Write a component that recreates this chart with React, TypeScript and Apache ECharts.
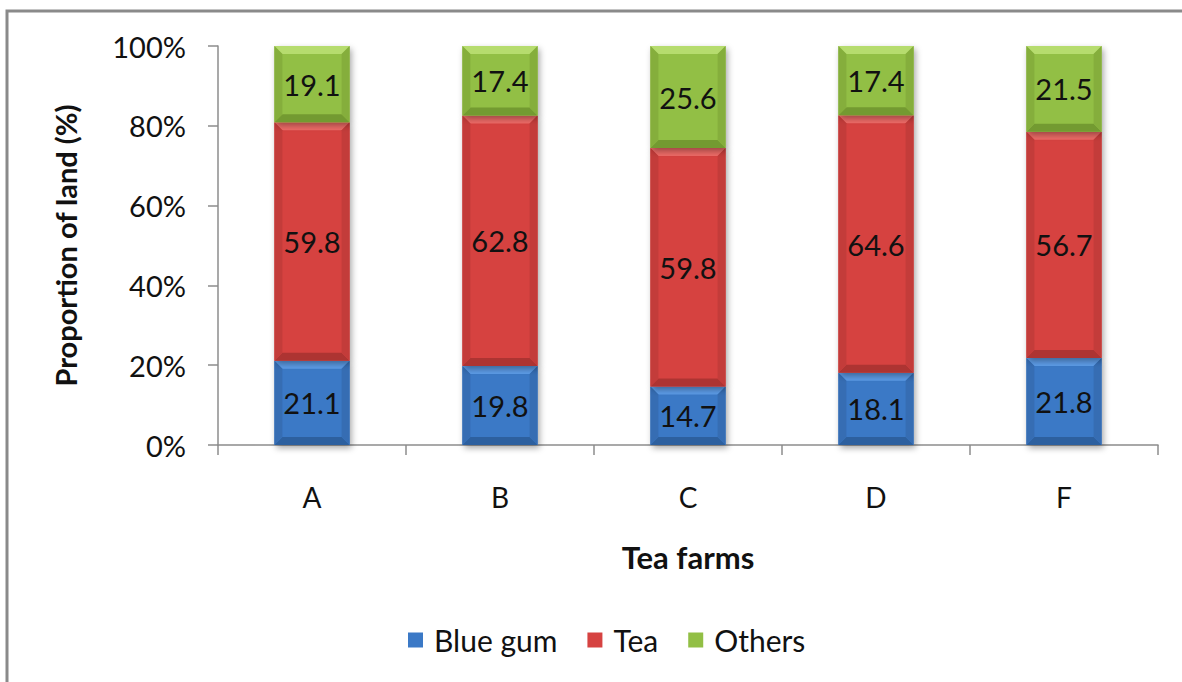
import React, { useEffect, useRef } from "react";
import * as echarts from "echarts";

// Land use shares per tea farm (%)
const farms = ["A", "B", "C", "D", "F"];
const blueGum = [21.1, 19.8, 14.7, 18.1, 21.8];
const tea = [59.8, 62.8, 59.8, 64.6, 56.7];
const others = [19.1, 17.4, 25.6, 17.4, 21.5];
const yTicks = [0, 20, 40, 60, 80, 100];

const seriesNames = ["Blue gum", "Tea", "Others"];
const seriesValues = [blueGum, tea, others];

// fill shades per series: body, top bevel, bottom bevel, side bevel
const palette = [
  { body: "#3b79c6", top: "#5c9be6", bottom: "#2d609f", side: "#366db3" },
  { body: "#d64341", top: "#ec6a66", bottom: "#ad3432", side: "#c33c3a" },
  { body: "#92bf45", top: "#b6dc6e", bottom: "#739a31", side: "#85ae3c" },
];

const FONT = "Lato, 'Open Sans', sans-serif";

export default function App() {
  const ref = useRef<HTMLDivElement>(null);

  useEffect(() => {
    if (!ref.current) return;
    const chart = echarts.init(ref.current, null, { renderer: "svg" });

    const totals = farms.map((_, i) => seriesValues.reduce((s, arr) => s + arr[i], 0));

    // stacked segments normalised to 100 % (percent-stacked column)
    const segData = seriesValues.map((arr, si) =>
      farms.map((_, i) => {
        let start = 0;
        for (let k = 0; k < si; k++) start += (seriesValues[k][i] / totals[i]) * 100;
        const end = start + (arr[i] / totals[i]) * 100;
        return [i, start, end, arr[i]];
      })
    );

    const makeRender = (si: number) => (params: any, api: any) => {
      const c = palette[si];
      const x = api.value(0);
      const p0 = api.coord([x, api.value(1)]);
      const p1 = api.coord([x, api.value(2)]);
      const bw = api.size([1, 0])[0] * 0.4;
      const l = p0[0] - bw / 2;
      const r = p0[0] + bw / 2;
      const t = p1[1];
      const b = p0[1];
      const bv = Math.min(8, (b - t) / 2);
      return {
        type: "group",
        children: [
          {
            type: "rect",
            shape: { x: l, y: t, width: r - l, height: b - t },
            style: {
              fill: c.body,
              shadowBlur: 6,
              shadowOffsetX: 2,
              shadowOffsetY: 3,
              shadowColor: "rgba(0,0,0,0.35)",
            },
          },
          {
            type: "polygon",
            shape: { points: [[l, t], [r, t], [r - bv, t + bv], [l + bv, t + bv]] },
            style: { fill: c.top },
          },
          {
            type: "polygon",
            shape: { points: [[l, b], [r, b], [r - bv, b - bv], [l + bv, b - bv]] },
            style: { fill: c.bottom },
          },
          {
            type: "polygon",
            shape: { points: [[l, t], [l + bv, t + bv], [l + bv, b - bv], [l, b]] },
            style: { fill: c.side },
          },
          {
            type: "polygon",
            shape: { points: [[r, t], [r - bv, t + bv], [r - bv, b - bv], [r, b]] },
            style: { fill: c.side },
          },
          {
            type: "text",
            x: p0[0],
            y: (t + b) / 2,
            style: {
              text: api.value(3).toFixed(1),
              fill: "#111",
              fontSize: 29,
              fontFamily: FONT,
              align: "center",
              verticalAlign: "middle",
            },
          },
        ],
      };
    };

    chart.setOption({
      animation: false,
      backgroundColor: "#ffffff",
      textStyle: { fontFamily: FONT },
      graphic: [
        {
          type: "polyline",
          shape: { points: [[7, 690], [7, 11], [1190, 11]] },
          style: { stroke: "#8a8a8a", lineWidth: 3, fill: "none" },
          silent: true,
        },
      ],
      grid: { left: 218, right: 24, top: 46, bottom: 237 },
      legend: {
        left: 403,
        top: 620,
        icon: "rect",
        itemWidth: 15,
        itemHeight: 15,
        itemGap: 30,
        textStyle: {
          fontSize: 30,
          fontFamily: FONT,
          color: "#111",
          padding: [0, 0, 0, 6],
        },
        data: seriesNames,
      },
      xAxis: {
        type: "category",
        data: farms,
        name: "Tea farms",
        nameLocation: "middle",
        nameGap: 96,
        nameTextStyle: { fontSize: 31, fontWeight: "bold", color: "#111", fontFamily: FONT },
        axisLine: { lineStyle: { color: "#8c8c8c", width: 1.5 } },
        axisTick: { show: true, length: 10, lineStyle: { color: "#8c8c8c", width: 1.5 } },
        axisLabel: { fontSize: 28, color: "#111", margin: 38, fontFamily: FONT },
        splitLine: { show: false },
      },
      yAxis: {
        type: "value",
        min: 0,
        max: 100,
        interval: 20,
        name: "Proportion of land (%)",
        nameLocation: "middle",
        nameRotate: 90,
        nameGap: 138,
        nameTextStyle: { fontSize: 29, fontWeight: "bold", color: "#111", fontFamily: FONT },
        axisLine: { show: true, lineStyle: { color: "#8c8c8c", width: 1.5 } },
        axisTick: { show: true, length: 10, lineStyle: { color: "#8c8c8c", width: 1.5 } },
        axisLabel: {
          fontSize: 29,
          color: "#111",
          margin: 32,
          fontFamily: FONT,
          formatter: (v: number) => (yTicks.includes(v) ? `${v}%` : ""),
        },
        splitLine: { show: false },
      },
      series: seriesNames.map((name, si) => ({
        name,
        type: "custom",
        renderItem: makeRender(si),
        itemStyle: { color: palette[si].body },
        encode: { x: 0, y: [1, 2] },
        data: segData[si],
      })),
    });

    return () => chart.dispose();
  }, []);

  return (
    <div
      ref={ref}
      style={{ position: "fixed", left: 0, top: 0, width: 1182, height: 682 }}
    />
  );
}
